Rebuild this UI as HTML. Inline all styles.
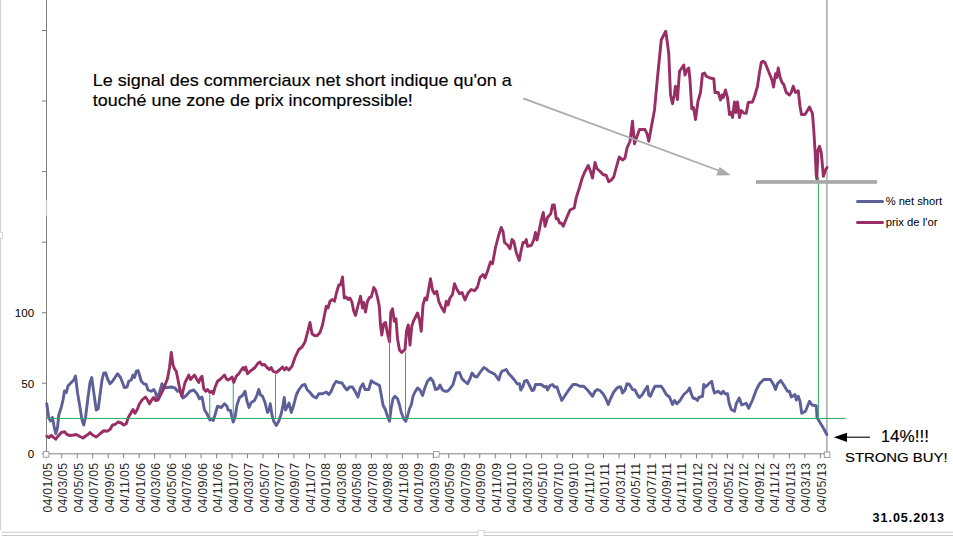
<!DOCTYPE html>
<html><head><meta charset="utf-8"><title>chart</title>
<style>
html,body{margin:0;padding:0;background:#fff;}
body{width:953px;height:536px;overflow:hidden;position:relative;font-family:"Liberation Sans",sans-serif;}
svg{position:absolute;left:0;top:0;}
text{font-family:"Liberation Sans",sans-serif;}
</style></head><body>
<svg width="953" height="536" viewBox="0 0 953 536">
<rect width="953" height="536" fill="#fff"/>
<!-- excel frame remnants -->
<line x1="0.5" y1="0" x2="0.5" y2="530" stroke="#d2d2d2" stroke-width="1.2"/>
<line x1="2" y1="532.3" x2="953" y2="532.3" stroke="#d6d6d6" stroke-width="1.3"/>
<line x1="2" y1="535.6" x2="953" y2="535.6" stroke="#c4c4c4" stroke-width="1"/>
<rect x="-3" y="232.5" width="5.5" height="5.5" fill="#fff" stroke="#cfcfcf" stroke-width="0.8"/>
<rect x="478" y="530.5" width="6" height="6" fill="#fff" stroke="#cfcfcf" stroke-width="0.8"/>
<!-- axes -->
<g stroke="#808080" stroke-width="1" fill="none">
<line x1="46.5" y1="0" x2="46.5" y2="453.8"/>
<line x1="46" y1="453.8" x2="827" y2="453.8"/>
<line x1="42" y1="30.5" x2="46.5" y2="30.5"/><line x1="42" y1="101.0" x2="46.5" y2="101.0"/><line x1="42" y1="171.6" x2="46.5" y2="171.6"/><line x1="42" y1="242.2" x2="46.5" y2="242.2"/><line x1="42" y1="312.7" x2="46.5" y2="312.7"/><line x1="42" y1="383.2" x2="46.5" y2="383.2"/><line x1="42" y1="453.8" x2="46.5" y2="453.8"/>
<line x1="46.30" y1="453.8" x2="46.30" y2="458.3" /><line x1="61.78" y1="453.8" x2="61.78" y2="458.3" /><line x1="77.26" y1="453.8" x2="77.26" y2="458.3" /><line x1="92.74" y1="453.8" x2="92.74" y2="458.3" /><line x1="108.22" y1="453.8" x2="108.22" y2="458.3" /><line x1="123.70" y1="453.8" x2="123.70" y2="458.3" /><line x1="139.18" y1="453.8" x2="139.18" y2="458.3" /><line x1="154.66" y1="453.8" x2="154.66" y2="458.3" /><line x1="170.14" y1="453.8" x2="170.14" y2="458.3" /><line x1="185.62" y1="453.8" x2="185.62" y2="458.3" /><line x1="201.10" y1="453.8" x2="201.10" y2="458.3" /><line x1="216.58" y1="453.8" x2="216.58" y2="458.3" /><line x1="232.06" y1="453.8" x2="232.06" y2="458.3" /><line x1="247.54" y1="453.8" x2="247.54" y2="458.3" /><line x1="263.02" y1="453.8" x2="263.02" y2="458.3" /><line x1="278.50" y1="453.8" x2="278.50" y2="458.3" /><line x1="293.98" y1="453.8" x2="293.98" y2="458.3" /><line x1="309.46" y1="453.8" x2="309.46" y2="458.3" /><line x1="324.94" y1="453.8" x2="324.94" y2="458.3" /><line x1="340.42" y1="453.8" x2="340.42" y2="458.3" /><line x1="355.90" y1="453.8" x2="355.90" y2="458.3" /><line x1="371.38" y1="453.8" x2="371.38" y2="458.3" /><line x1="386.86" y1="453.8" x2="386.86" y2="458.3" /><line x1="402.34" y1="453.8" x2="402.34" y2="458.3" /><line x1="417.82" y1="453.8" x2="417.82" y2="458.3" /><line x1="433.30" y1="453.8" x2="433.30" y2="458.3" /><line x1="448.78" y1="453.8" x2="448.78" y2="458.3" /><line x1="464.26" y1="453.8" x2="464.26" y2="458.3" /><line x1="479.74" y1="453.8" x2="479.74" y2="458.3" /><line x1="495.22" y1="453.8" x2="495.22" y2="458.3" /><line x1="510.70" y1="453.8" x2="510.70" y2="458.3" /><line x1="526.18" y1="453.8" x2="526.18" y2="458.3" /><line x1="541.66" y1="453.8" x2="541.66" y2="458.3" /><line x1="557.14" y1="453.8" x2="557.14" y2="458.3" /><line x1="572.62" y1="453.8" x2="572.62" y2="458.3" /><line x1="588.10" y1="453.8" x2="588.10" y2="458.3" /><line x1="603.58" y1="453.8" x2="603.58" y2="458.3" /><line x1="619.06" y1="453.8" x2="619.06" y2="458.3" /><line x1="634.54" y1="453.8" x2="634.54" y2="458.3" /><line x1="650.02" y1="453.8" x2="650.02" y2="458.3" /><line x1="665.50" y1="453.8" x2="665.50" y2="458.3" /><line x1="680.98" y1="453.8" x2="680.98" y2="458.3" /><line x1="696.46" y1="453.8" x2="696.46" y2="458.3" /><line x1="711.94" y1="453.8" x2="711.94" y2="458.3" /><line x1="727.42" y1="453.8" x2="727.42" y2="458.3" /><line x1="742.90" y1="453.8" x2="742.90" y2="458.3" /><line x1="758.38" y1="453.8" x2="758.38" y2="458.3" /><line x1="773.86" y1="453.8" x2="773.86" y2="458.3" /><line x1="789.34" y1="453.8" x2="789.34" y2="458.3" /><line x1="804.82" y1="453.8" x2="804.82" y2="458.3" /><line x1="820.30" y1="453.8" x2="820.30" y2="458.3" />
</g>
<line x1="46.5" y1="200" x2="46.5" y2="216" stroke="#c8c8c8" stroke-width="1.2"/>
<!-- right vertical -->
<line x1="826.9" y1="0" x2="826.9" y2="453" stroke="#b2b2b2" stroke-width="1.7"/>
<!-- series -->
<path d="M46.75,403.75 L48.75,417.50 L50.50,421.00 L52.50,417.50 L54.00,426.00 L55.75,433.75 L57.50,427.50 L58.75,415.00 L61.25,407.50 L63.00,400.00 L64.50,391.00 L66.25,392.50 L68.00,386.00 L71.25,382.50 L73.75,380.00 L75.50,376.00 L77.50,392.50 L80.00,407.50 L82.00,420.00 L83.75,425.00 L85.50,417.50 L88.00,397.50 L90.00,382.50 L91.75,377.50 L93.75,392.50 L96.25,410.00 L98.25,408.75 L100.00,395.00 L102.00,380.00 L103.75,373.00 L105.75,373.00 L107.50,378.75 L110.00,383.75 L112.50,381.25 L115.00,377.50 L117.50,373.75 L120.50,377.50 L122.50,382.50 L124.25,387.50 L127.00,387.00 L128.75,381.25 L131.25,380.00 L133.00,375.00 L134.50,377.50 L136.25,371.25 L138.00,370.50 L139.50,375.00 L141.25,381.25 L143.75,383.75 L146.25,384.50 L148.00,390.00 L151.25,391.25 L153.75,389.50 L155.50,392.50 L157.00,398.00 L159.50,392.50 L162.00,383.75 L163.75,388.00 L167.50,387.50 L171.25,387.00 L175.00,388.00 L177.50,391.25 L180.00,390.50 L183.00,398.00 L186.25,395.50 L190.00,391.25 L193.75,390.00 L197.00,393.75 L199.50,398.75 L202.00,397.00 L204.50,410.00 L207.00,413.75 L210.00,420.00 L212.00,418.75 L213.25,420.50 L215.00,415.00 L217.50,406.25 L221.25,407.50 L224.50,403.75 L227.00,406.25 L228.00,410.00 L230.50,410.50 L232.00,417.50 L233.25,422.00 L235.00,417.50 L237.00,405.00 L239.50,397.50 L242.50,395.50 L245.00,391.25 L247.00,401.25 L249.00,407.50 L251.25,402.50 L254.50,400.50 L257.00,395.00 L258.75,389.50 L260.50,395.00 L262.50,396.25 L265.00,402.50 L267.50,412.50 L269.25,410.00 L270.25,403.75 L272.00,415.00 L273.75,421.25 L276.25,425.50 L278.75,421.25 L281.25,413.75 L283.00,405.00 L284.25,397.50 L285.50,410.00 L287.50,406.25 L289.00,403.00 L291.25,412.50 L293.75,405.00 L296.25,395.00 L298.75,390.00 L302.00,385.50 L305.00,384.50 L307.00,389.50 L310.00,392.50 L313.00,396.25 L316.25,398.00 L318.75,393.75 L322.50,393.75 L326.25,392.00 L328.75,394.50 L331.25,391.25 L333.75,385.00 L336.25,381.25 L338.75,382.50 L342.00,383.00 L344.50,387.00 L347.00,390.00 L349.50,387.00 L352.50,387.00 L355.00,391.25 L358.00,397.00 L360.50,387.50 L363.00,383.75 L365.00,389.50 L368.75,389.50 L371.25,380.75 L373.75,382.50 L376.25,383.75 L379.50,385.50 L381.25,395.00 L383.00,405.00 L385.50,410.00 L387.50,416.25 L389.50,421.25 L391.25,407.50 L393.00,398.75 L395.00,396.25 L397.50,398.75 L399.50,405.00 L401.25,412.50 L403.75,418.75 L405.75,421.25 L407.50,416.25 L409.50,408.75 L411.25,405.00 L413.00,396.25 L415.00,392.00 L417.50,388.00 L420.00,390.00 L422.50,395.50 L425.00,387.50 L427.50,381.25 L430.50,378.00 L433.00,381.25 L435.50,389.50 L438.00,388.75 L440.00,385.00 L442.50,390.00 L445.00,391.25 L447.50,391.25 L450.00,388.75 L453.00,384.50 L456.25,373.00 L459.50,372.50 L462.00,378.75 L464.50,381.25 L467.50,383.75 L470.00,378.75 L472.00,373.00 L474.50,376.25 L477.00,377.00 L480.00,372.50 L483.75,367.50 L486.25,368.75 L488.75,371.25 L492.50,373.00 L495.00,374.50 L497.00,377.50 L498.75,380.00 L500.50,374.00 L502.00,371.25 L506.25,369.50 L508.75,373.75 L511.25,376.25 L514.50,380.00 L517.00,383.75 L519.50,383.75 L520.75,390.00 L523.00,386.25 L524.50,381.25 L527.00,380.50 L529.50,385.50 L532.00,390.50 L533.75,390.00 L535.50,384.50 L541.25,384.50 L544.50,387.00 L546.25,386.25 L547.50,390.00 L550.00,385.50 L552.50,384.50 L554.50,387.00 L557.00,387.00 L558.75,392.50 L560.00,395.50 L561.75,400.50 L565.00,395.50 L568.75,390.00 L573.00,384.50 L576.25,384.50 L580.00,386.25 L583.75,386.25 L587.50,390.00 L590.50,393.75 L592.50,396.25 L595.00,391.25 L597.50,389.50 L600.00,390.50 L603.00,393.75 L605.50,398.00 L608.25,404.50 L610.50,398.75 L613.75,392.00 L617.00,388.00 L618.75,387.00 L620.75,387.00 L622.50,393.00 L625.00,390.00 L627.00,383.75 L629.50,384.50 L632.50,389.50 L635.00,390.00 L637.50,395.00 L639.50,397.50 L642.00,395.00 L645.00,390.00 L647.50,386.25 L648.75,395.00 L650.50,396.25 L652.50,391.25 L655.00,386.25 L661.25,386.25 L663.75,390.00 L666.25,394.50 L669.50,397.00 L671.25,401.25 L672.50,404.50 L674.50,400.50 L677.00,403.75 L680.00,400.50 L683.75,394.50 L687.50,391.25 L689.50,388.00 L691.25,393.75 L693.00,398.00 L695.50,398.75 L697.50,400.50 L698.75,397.50 L702.50,396.25 L703.75,384.50 L705.50,387.00 L708.75,383.75 L711.75,381.25 L713.00,388.00 L714.50,393.00 L718.00,391.25 L721.25,393.75 L723.25,391.25 L725.00,393.75 L727.50,393.75 L729.25,403.75 L731.25,409.50 L734.50,411.25 L736.25,403.75 L739.25,398.00 L741.75,405.00 L746.25,403.25 L748.75,408.25 L752.50,400.00 L756.25,390.00 L759.50,383.75 L763.75,379.50 L770.50,379.50 L773.75,385.00 L775.50,389.50 L777.50,383.75 L780.75,380.50 L783.75,385.00 L787.50,391.25 L789.50,391.25 L791.25,397.00 L795.00,394.50 L796.25,400.00 L798.25,396.25 L800.00,401.25 L801.75,413.25 L805.50,411.25 L808.00,405.00 L809.50,401.25 L812.00,405.00 L816.25,405.75 L817.00,417.50 L820.00,422.50 L823.75,428.75 L826.75,434.50" fill="none" stroke="#5d6098" stroke-width="2.9" stroke-linejoin="round" stroke-linecap="round"/>
<path d="M46.75,436.25 L48.75,437.50 L51.25,435.50 L53.75,437.50 L55.75,439.25 L58.00,436.25 L61.25,432.50 L64.50,431.75 L67.00,434.50 L70.00,435.50 L73.75,435.00 L76.25,434.50 L79.50,436.25 L83.00,438.00 L86.25,435.50 L88.00,434.50 L90.00,432.50 L92.50,435.00 L96.25,437.00 L100.00,433.75 L103.75,430.75 L107.00,431.25 L110.00,429.50 L112.50,425.00 L115.00,424.50 L118.00,422.00 L121.25,423.00 L123.75,425.00 L126.25,423.75 L128.25,417.50 L130.50,413.75 L133.00,409.50 L135.00,413.25 L137.00,410.00 L139.50,403.75 L142.50,399.50 L145.50,397.00 L147.50,400.00 L149.50,403.75 L152.00,399.50 L153.75,397.50 L155.50,400.50 L158.00,400.00 L160.50,395.00 L163.00,390.00 L165.50,383.75 L167.50,378.75 L169.50,367.50 L171.25,352.50 L173.00,365.00 L174.50,368.75 L176.25,371.25 L178.00,380.00 L180.00,390.00 L181.75,396.25 L183.25,390.00 L185.00,382.50 L187.00,378.75 L188.75,375.00 L190.50,379.50 L192.50,377.00 L194.50,375.00 L196.50,378.75 L198.75,382.50 L200.75,377.50 L202.00,376.25 L203.75,388.75 L205.75,391.25 L207.50,389.50 L210.00,392.50 L212.00,391.25 L213.25,393.75 L215.00,387.50 L217.50,381.25 L220.00,379.50 L222.50,377.00 L224.50,375.00 L226.25,378.75 L228.00,380.00 L230.00,378.75 L232.00,377.00 L233.75,382.50 L236.25,376.25 L238.75,373.75 L241.25,370.00 L243.00,367.50 L244.50,370.00 L245.75,367.00 L247.50,373.75 L250.00,371.25 L252.50,369.50 L255.00,367.50 L257.50,363.75 L260.00,362.00 L262.00,365.00 L264.50,364.50 L267.00,367.50 L269.50,369.50 L271.25,367.50 L273.00,371.25 L276.25,372.50 L280.00,369.50 L282.50,367.00 L284.50,370.00 L286.25,367.50 L288.75,370.00 L292.00,366.25 L295.00,357.50 L298.75,349.50 L302.00,347.00 L305.00,342.00 L307.50,332.50 L310.00,322.50 L312.00,333.75 L314.50,335.50 L317.00,335.75 L320.00,332.50 L322.50,325.00 L324.50,315.00 L326.25,306.25 L328.00,308.00 L330.00,301.25 L332.50,299.50 L334.50,301.25 L336.25,293.75 L338.75,285.00 L340.50,285.00 L342.50,277.00 L344.25,298.00 L346.25,297.00 L348.00,299.50 L350.00,298.00 L352.00,302.50 L353.75,311.25 L355.50,315.50 L357.50,307.50 L360.50,296.25 L362.50,308.00 L363.75,302.50 L365.50,312.00 L367.50,301.25 L369.50,297.50 L371.25,297.00 L373.75,287.50 L375.50,290.00 L377.50,297.50 L379.25,306.25 L380.50,325.00 L381.75,335.00 L383.75,323.75 L385.50,322.50 L387.50,333.75 L389.50,342.00 L390.75,312.50 L392.50,308.75 L394.25,321.25 L396.00,318.75 L397.50,338.75 L399.50,350.00 L401.75,352.50 L405.00,349.50 L406.50,331.25 L408.25,325.00 L410.00,345.00 L411.75,326.25 L413.75,320.50 L417.50,313.00 L419.50,320.00 L421.25,331.25 L423.00,305.00 L425.00,298.00 L426.75,300.00 L428.75,288.75 L430.50,278.75 L432.50,290.00 L434.50,293.75 L436.75,291.25 L438.75,301.25 L441.25,307.00 L444.25,312.00 L446.25,301.25 L448.00,305.00 L450.00,298.00 L452.50,294.50 L454.50,283.75 L457.00,289.50 L459.50,293.75 L462.00,292.50 L465.00,300.00 L468.00,293.00 L471.25,289.50 L474.50,290.75 L477.50,287.00 L480.00,277.50 L483.00,274.50 L485.00,278.00 L487.50,271.25 L490.50,262.00 L492.50,263.75 L495.50,247.50 L498.75,235.00 L501.25,227.50 L503.00,231.25 L504.50,242.50 L507.50,245.00 L510.00,248.75 L512.00,239.50 L513.75,241.25 L516.25,252.50 L519.25,260.50 L521.25,250.00 L523.00,242.50 L525.00,242.50 L526.25,239.50 L527.50,246.25 L531.25,245.50 L533.75,240.00 L535.50,232.50 L537.00,240.00 L538.75,232.50 L541.25,220.00 L543.25,212.50 L545.00,226.25 L547.50,217.50 L550.75,213.75 L552.50,205.00 L554.25,205.00 L556.25,218.75 L558.00,218.75 L559.50,223.00 L561.25,223.00 L563.25,226.25 L566.25,218.75 L570.00,210.00 L574.25,208.00 L576.25,197.50 L579.50,187.50 L582.00,178.75 L584.50,172.50 L588.25,165.50 L590.50,171.25 L592.50,178.00 L595.00,162.50 L597.00,168.75 L600.00,171.25 L603.00,174.50 L606.25,175.50 L608.75,181.75 L611.25,180.00 L613.75,177.00 L616.25,167.50 L619.25,157.00 L622.50,160.00 L625.00,158.00 L627.00,148.00 L630.00,141.25 L632.50,121.25 L634.50,143.75 L637.00,136.25 L639.50,129.50 L645.00,129.50 L647.00,133.75 L648.75,141.25 L651.25,127.50 L654.50,110.00 L657.00,82.50 L659.50,57.50 L661.25,40.00 L663.75,35.00 L665.75,31.25 L667.50,43.75 L668.75,53.75 L670.50,95.00 L672.50,103.75 L674.25,95.00 L675.50,86.25 L677.50,99.50 L679.50,71.25 L681.75,68.00 L683.75,65.00 L685.00,75.00 L687.00,70.00 L688.75,68.00 L690.00,80.00 L691.75,108.75 L693.50,107.50 L695.50,119.50 L698.00,101.25 L700.50,92.50 L702.50,73.75 L704.50,73.00 L706.25,76.25 L710.00,78.00 L713.75,78.75 L715.00,92.50 L718.25,92.50 L720.50,100.00 L722.00,95.00 L723.25,97.50 L725.50,90.00 L727.50,97.50 L729.50,114.50 L731.25,112.50 L732.50,117.50 L734.50,102.00 L736.00,112.50 L737.50,102.00 L739.50,117.50 L741.25,110.50 L743.75,113.00 L746.25,113.25 L748.25,102.50 L752.50,102.00 L755.00,95.00 L757.50,86.25 L759.50,72.50 L761.25,62.50 L763.00,61.25 L765.00,62.50 L767.00,67.50 L769.50,73.75 L772.00,80.00 L773.50,87.00 L775.50,73.75 L776.75,77.50 L778.25,68.00 L780.00,77.00 L782.00,82.50 L783.75,84.50 L786.25,92.50 L789.50,95.00 L791.25,92.50 L793.25,86.25 L795.50,92.50 L798.25,90.75 L800.00,106.25 L801.50,114.50 L805.00,114.50 L807.00,111.25 L809.50,107.00 L812.50,113.75 L813.75,130.00 L815.00,150.00 L816.25,175.00 L816.80,178.90 L818.00,150.00 L819.50,146.25 L821.25,152.50 L823.40,176.40 L825.50,170.00 L827.00,167.50" fill="none" stroke="#982e63" stroke-width="2.9" stroke-linejoin="round" stroke-linecap="round"/>
<!-- green lines -->
<g stroke="#2fa862" stroke-width="1" fill="none">
<line x1="46.5" y1="418.4" x2="845.7" y2="418.4"/>
<line x1="209.75" y1="394.5" x2="209.75" y2="418.4"/>
<line x1="233.25" y1="383.7" x2="233.25" y2="418.4"/>
<line x1="275.5" y1="374.5" x2="275.5" y2="418.4"/>
<line x1="389.5" y1="337" x2="389.5" y2="418.4"/>
<line x1="405.5" y1="352.5" x2="405.5" y2="418.4"/>
<line x1="818.4" y1="177" x2="818.4" y2="418.4"/>
</g>
<!-- gray support line -->
<rect x="756" y="180.1" width="121" height="3.7" fill="#a9a9a9"/>
<!-- gray arrow -->
<line x1="523.2" y1="98.3" x2="720" y2="171" stroke="#ababab" stroke-width="1.8"/>
<polygon points="719.7,167.1 731,175.3 716.3,175.6" fill="#ababab"/>
<!-- handles -->
<g fill="#fff" stroke="#8c8c8c" stroke-width="0.8">
<rect x="43.3" y="451.6" width="5.6" height="5.6"/>
<rect x="433.5" y="451.6" width="5.6" height="5.6"/>
<rect x="824.3" y="452" width="5.6" height="5.6"/>
</g>
<!-- y labels -->
<g font-size="11.6" text-anchor="end">
<text x="34.2" y="317.2">100</text>
<text x="34.2" y="387.8">50</text>
<text x="34.2" y="458.2">0</text>
</g>
<!-- x labels -->
<g font-size="12.3" fill="#262626"><text transform="translate(51.80,512.6) rotate(-90)" textLength="49.8" lengthAdjust="spacing">04/01/05</text><text transform="translate(67.28,512.6) rotate(-90)" textLength="49.8" lengthAdjust="spacing">04/03/05</text><text transform="translate(82.76,512.6) rotate(-90)" textLength="49.8" lengthAdjust="spacing">04/05/05</text><text transform="translate(98.24,512.6) rotate(-90)" textLength="49.8" lengthAdjust="spacing">04/07/05</text><text transform="translate(113.72,512.6) rotate(-90)" textLength="49.8" lengthAdjust="spacing">04/09/05</text><text transform="translate(129.20,512.6) rotate(-90)" textLength="49.8" lengthAdjust="spacing">04/11/05</text><text transform="translate(144.68,512.6) rotate(-90)" textLength="49.8" lengthAdjust="spacing">04/01/06</text><text transform="translate(160.16,512.6) rotate(-90)" textLength="49.8" lengthAdjust="spacing">04/03/06</text><text transform="translate(175.64,512.6) rotate(-90)" textLength="49.8" lengthAdjust="spacing">04/05/06</text><text transform="translate(191.12,512.6) rotate(-90)" textLength="49.8" lengthAdjust="spacing">04/07/06</text><text transform="translate(206.60,512.6) rotate(-90)" textLength="49.8" lengthAdjust="spacing">04/09/06</text><text transform="translate(222.08,512.6) rotate(-90)" textLength="49.8" lengthAdjust="spacing">04/11/06</text><text transform="translate(237.56,512.6) rotate(-90)" textLength="49.8" lengthAdjust="spacing">04/01/07</text><text transform="translate(253.04,512.6) rotate(-90)" textLength="49.8" lengthAdjust="spacing">04/03/07</text><text transform="translate(268.52,512.6) rotate(-90)" textLength="49.8" lengthAdjust="spacing">04/05/07</text><text transform="translate(284.00,512.6) rotate(-90)" textLength="49.8" lengthAdjust="spacing">04/07/07</text><text transform="translate(299.48,512.6) rotate(-90)" textLength="49.8" lengthAdjust="spacing">04/09/07</text><text transform="translate(314.96,512.6) rotate(-90)" textLength="49.8" lengthAdjust="spacing">04/11/07</text><text transform="translate(330.44,512.6) rotate(-90)" textLength="49.8" lengthAdjust="spacing">04/01/08</text><text transform="translate(345.92,512.6) rotate(-90)" textLength="49.8" lengthAdjust="spacing">04/03/08</text><text transform="translate(361.40,512.6) rotate(-90)" textLength="49.8" lengthAdjust="spacing">04/05/08</text><text transform="translate(376.88,512.6) rotate(-90)" textLength="49.8" lengthAdjust="spacing">04/07/08</text><text transform="translate(392.36,512.6) rotate(-90)" textLength="49.8" lengthAdjust="spacing">04/09/08</text><text transform="translate(407.84,512.6) rotate(-90)" textLength="49.8" lengthAdjust="spacing">04/11/08</text><text transform="translate(423.32,512.6) rotate(-90)" textLength="49.8" lengthAdjust="spacing">04/01/09</text><text transform="translate(438.80,512.6) rotate(-90)" textLength="49.8" lengthAdjust="spacing">04/03/09</text><text transform="translate(454.28,512.6) rotate(-90)" textLength="49.8" lengthAdjust="spacing">04/05/09</text><text transform="translate(469.76,512.6) rotate(-90)" textLength="49.8" lengthAdjust="spacing">04/07/09</text><text transform="translate(485.24,512.6) rotate(-90)" textLength="49.8" lengthAdjust="spacing">04/09/09</text><text transform="translate(500.72,512.6) rotate(-90)" textLength="49.8" lengthAdjust="spacing">04/11/09</text><text transform="translate(516.20,512.6) rotate(-90)" textLength="49.8" lengthAdjust="spacing">04/01/10</text><text transform="translate(531.68,512.6) rotate(-90)" textLength="49.8" lengthAdjust="spacing">04/03/10</text><text transform="translate(547.16,512.6) rotate(-90)" textLength="49.8" lengthAdjust="spacing">04/05/10</text><text transform="translate(562.64,512.6) rotate(-90)" textLength="49.8" lengthAdjust="spacing">04/07/10</text><text transform="translate(578.12,512.6) rotate(-90)" textLength="49.8" lengthAdjust="spacing">04/09/10</text><text transform="translate(593.60,512.6) rotate(-90)" textLength="49.8" lengthAdjust="spacing">04/11/10</text><text transform="translate(609.08,512.6) rotate(-90)" textLength="49.8" lengthAdjust="spacing">04/01/11</text><text transform="translate(624.56,512.6) rotate(-90)" textLength="49.8" lengthAdjust="spacing">04/03/11</text><text transform="translate(640.04,512.6) rotate(-90)" textLength="49.8" lengthAdjust="spacing">04/05/11</text><text transform="translate(655.52,512.6) rotate(-90)" textLength="49.8" lengthAdjust="spacing">04/07/11</text><text transform="translate(671.00,512.6) rotate(-90)" textLength="49.8" lengthAdjust="spacing">04/09/11</text><text transform="translate(686.48,512.6) rotate(-90)" textLength="49.8" lengthAdjust="spacing">04/11/11</text><text transform="translate(701.96,512.6) rotate(-90)" textLength="49.8" lengthAdjust="spacing">04/01/12</text><text transform="translate(717.44,512.6) rotate(-90)" textLength="49.8" lengthAdjust="spacing">04/03/12</text><text transform="translate(732.92,512.6) rotate(-90)" textLength="49.8" lengthAdjust="spacing">04/05/12</text><text transform="translate(748.40,512.6) rotate(-90)" textLength="49.8" lengthAdjust="spacing">04/07/12</text><text transform="translate(763.88,512.6) rotate(-90)" textLength="49.8" lengthAdjust="spacing">04/09/12</text><text transform="translate(779.36,512.6) rotate(-90)" textLength="49.8" lengthAdjust="spacing">04/11/12</text><text transform="translate(794.84,512.6) rotate(-90)" textLength="49.8" lengthAdjust="spacing">04/01/13</text><text transform="translate(810.32,512.6) rotate(-90)" textLength="49.8" lengthAdjust="spacing">04/03/13</text><text transform="translate(825.80,512.6) rotate(-90)" textLength="49.8" lengthAdjust="spacing">04/05/13</text></g>
<!-- legend -->
<line x1="857.5" y1="201.5" x2="882.5" y2="201.5" stroke="#5d6098" stroke-width="3" stroke-linecap="round"/>
<line x1="857.5" y1="222.5" x2="882.5" y2="222.5" stroke="#982e63" stroke-width="3" stroke-linecap="round"/>
<g font-size="11">
<text x="885.7" y="205.3" textLength="56.3" lengthAdjust="spacingAndGlyphs">% net short</text>
<text x="885.7" y="226.3" textLength="51.8" lengthAdjust="spacingAndGlyphs">prix de l'or</text>
</g>
<!-- annotation -->
<g font-size="16.2" stroke="#000" stroke-width="0.15">
<text x="92.8" y="85.9" textLength="419" lengthAdjust="spacingAndGlyphs">Le signal des commerciaux net short indique qu'on a</text>
<text x="92.8" y="105.6" textLength="320" lengthAdjust="spacingAndGlyphs">touché une zone de prix incompressible!</text>
</g>
<!-- 14% arrow -->
<line x1="840" y1="437.2" x2="870" y2="437.2" stroke="#000" stroke-width="1.1"/>
<polygon points="833.8,437.3 847,432.8 847,441.9" fill="#000"/>
<g stroke="#000" stroke-width="0.15">
<text x="881" y="441.6" font-size="16.2">1</text><text x="890" y="441.6" font-size="16.2" textLength="38.9" lengthAdjust="spacingAndGlyphs">4%!!!</text>
<text x="845" y="461.5" font-size="13" textLength="102.6" lengthAdjust="spacingAndGlyphs">STRONG BUY!</text>
</g>
<text x="872.6" y="521.6" font-size="12.6" font-weight="bold" textLength="71.4" lengthAdjust="spacing">31.05.2013</text>
</svg>
</body></html>
